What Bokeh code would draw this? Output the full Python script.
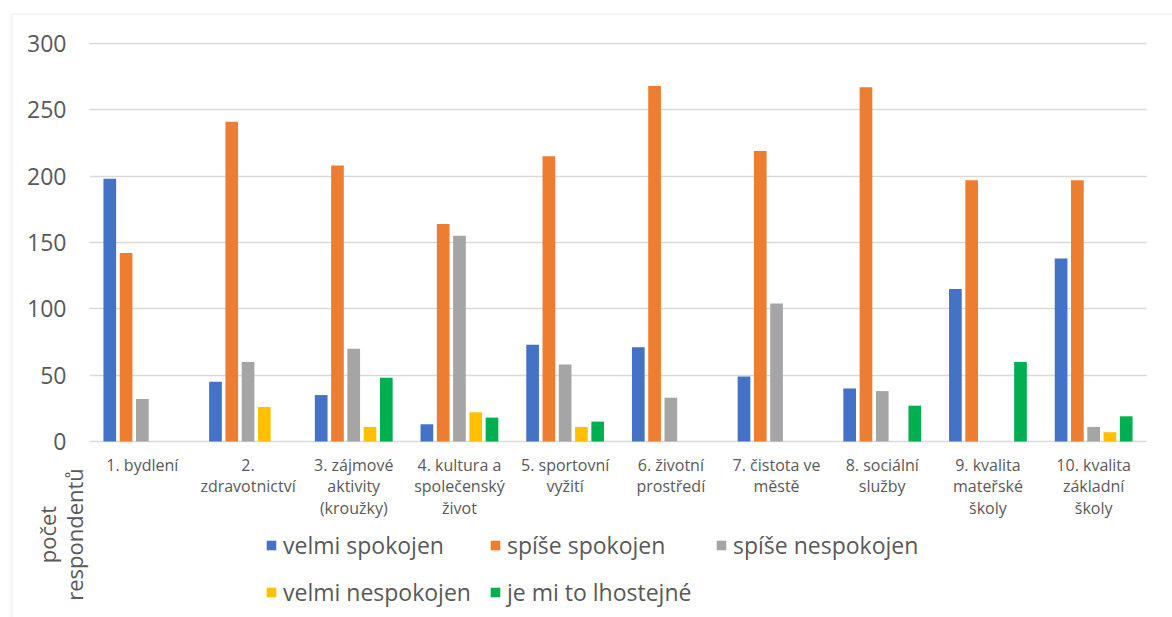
from bokeh.plotting import figure
from bokeh.models import (ColumnDataSource, Range1d, Legend, LegendItem, Label,
                          BoxAnnotation, FixedTicker, LinearAxis, Grid)
from bokeh.transform import dodge
from bokeh.embed import file_html
from bokeh.resources import INLINE

categories = ["1. bydlení", "2.\nzdravotnictví", "3. zájmové\naktivity\n(kroužky)",
              "4. kultura a\nspolečenský\nživot", "5. sportovní\nvyžití",
              "6. životní\nprostředí", "7. čistota ve\nměstě", "8. sociální\nslužby",
              "9. kvalita\nmateřské\nškoly", "10. kvalita\nzákladní\nškoly"]

series_names = ["velmi spokojen", "spíše spokojen", "spíše nespokojen",
                "velmi nespokojen", "je mi to lhostejné"]

velmi_spokojen = [198, 45, 35, 13, 73, 71, 49, 40, 115, 138]
spise_spokojen = [142, 241, 208, 164, 215, 268, 219, 267, 197, 197]
spise_nespokojen = [32, 60, 70, 155, 58, 33, 104, 38, 0, 11]
velmi_nespokojen = [0, 26, 11, 22, 11, 0, 0, 0, 0, 7]
lhostejne = [0, 0, 48, 18, 15, 0, 0, 27, 60, 19]

y_ticks = [0, 50, 100, 150, 200, 250, 300]
colors = ["#4472C4", "#ED7D31", "#A5A5A5", "#FFC000", "#00B050"]
y_title = "počet\nrespondentů"

FONT = "Open Sans"
TXT = "#595959"
GRID = "#D9D9D9"

n = len(categories)
xc = [i + 0.5 for i in range(n)]   # category centres on the category axis

src = ColumnDataSource(dict(xc=xc, s0=velmi_spokojen, s1=spise_spokojen,
                            s2=spise_nespokojen, s3=velmi_nespokojen, s4=lhostejne))

W, H = 1172, 617
p = figure(width=W, height=H, output_backend="svg", toolbar_location=None,
           x_range=Range1d(-0.842, 10.246), y_range=Range1d(-132.66, 332.41),
           x_axis_location=None, y_axis_location=None, min_border=0)
# drop the default grids, a bounded one is added below
p.renderers = [r for r in p.renderers if not isinstance(r, Grid)]
p.center = [r for r in p.center if not isinstance(r, Grid)]
p.outline_line_color = None
p.background_fill_color = "white"
p.border_fill_color = "white"

offsets = [-0.308, -0.154, 0.0, 0.154, 0.308]
renderers = []
for i in range(5):
    r = p.vbar(x=dodge("xc", offsets[i]), top="s%d" % i, width=0.12,
               source=src, fill_color=colors[i], line_color=None)
    renderers.append(r)

yticker = FixedTicker(ticks=y_ticks)
grid = Grid(dimension=1, ticker=yticker, grid_line_color=GRID, grid_line_width=1.5,
            cross_bounds=(0, n))
p.add_layout(grid)

yaxis = LinearAxis(ticker=yticker, fixed_location=0, axis_line_color=None,
                   major_tick_line_color=None, minor_tick_line_color=None,
                   major_tick_out=0, major_tick_in=0,
                   major_label_text_font=FONT, major_label_text_font_size="23px",
                   major_label_text_color=TXT, major_label_standoff=23)
p.add_layout(yaxis, "left")

xaxis = LinearAxis(ticker=FixedTicker(ticks=xc), fixed_location=0, axis_line_color=None,
                   major_label_overrides={x: c for x, c in zip(xc, categories)},
                   major_tick_line_color=None, minor_tick_line_color=None,
                   major_tick_out=0, major_tick_in=0,
                   major_label_text_font=FONT, major_label_text_font_size="16px",
                   major_label_text_color=TXT, major_label_standoff=12,
                   major_label_text_line_height=0.98)
p.add_layout(xaxis, "below")

# legend: one entry per legend, laid out in two rows like the reference
leg_pos = [(265, 56), (489, 56), (715, 56), (265, 9), (489, 9)]
for i in range(5):
    lg = Legend(items=[LegendItem(label=series_names[i], renderers=[renderers[i]])],
                location=leg_pos[i], orientation="horizontal",
                padding=0, margin=0, spacing=0, border_line_color=None,
                background_fill_alpha=0, glyph_width=12, glyph_height=12,
                label_standoff=6, label_height=19,
                label_text_font=FONT, label_text_font_size="23px",
                label_text_color=TXT)
    p.add_layout(lg)

p.add_layout(Label(x=60, y=83, x_units="screen", y_units="screen", text=y_title,
                   angle=1.5707963, text_align="center", text_baseline="middle",
                   text_font=FONT, text_font_size="22px", text_color=TXT,
                   text_line_height=0.87))

p.add_layout(BoxAnnotation(left=11, right=3000, top=H - 13.5, bottom=-500,
                           left_units="screen", right_units="screen",
                           top_units="screen", bottom_units="screen",
                           fill_alpha=0, line_color=GRID, line_width=2))

open("out.html", "w").write(file_html(p, INLINE))
